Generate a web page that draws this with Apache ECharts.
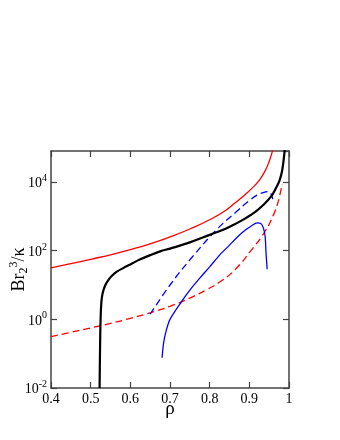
<!DOCTYPE html>
<html>
<head>
<meta charset="utf-8">
<script src="https://cdn.jsdelivr.net/npm/echarts@6/dist/echarts.min.js"></script>
<style>html,body{margin:0;padding:0;background:#fff}#c{width:340px;height:440px}</style>
</head>
<body>
<div id="c"></div>
<script>
// rho values and Br2^3/kappa values
var redSolidX = [0.40,0.45,0.50,0.55,0.60,0.65,0.70,0.75,0.80,0.84,0.865,0.886,0.905,0.925,0.94,0.95,0.957,0.963];
var redSolidY = [31.6,41.7,56.2,75.9,107,158,251,427,794,1479,2512,3981,6310,11220,21380,39810,70790,125900];

var blackX = [0.5225,0.5235,0.525,0.527,0.530,0.536,0.545,0.553,0.565,0.583,0.60,0.625,0.65,0.675,0.70,0.75,0.80,0.84,0.865,0.89,0.915,0.935,0.955,0.966,0.976,0.983,0.989,0.992];
var blackY = [0.01,0.1,1,3.16,5.62,9.33,14.1,18.2,24.0,31.6,39.8,56.2,74.1,95.5,115,174,288,437,603,871,1349,2138,3802,6310,10960,22390,79430,158500];

var blueDashX = [0.65,0.70,0.755,0.818,0.865,0.898,0.92,0.935,0.949,0.955,0.959];
var blueDashY = [1.41,10,63.1,417,1288,2754,4169,4898,5248,4467,3162];

var blueSolidX = [0.680,0.684,0.69,0.70,0.73,0.75,0.775,0.80,0.825,0.85,0.87,0.89,0.905,0.92,0.93,0.936,0.94,0.942,0.945];
var blueSolidY = [0.0759,0.209,0.447,1.0,3.39,7.08,15.8,33.9,74.1,145,251,398,525,646,603,437,251,89.1,28.8];

var redDashX = [0.40,0.45,0.50,0.55,0.60,0.65,0.70,0.75,0.793,0.827,0.865,0.9025,0.939,0.961,0.9725,0.9825];
var redDashY = [0.316,0.417,0.562,0.759,1.07,1.55,2.40,4.17,7.41,12.6,28.8,95.5,355,1122,2630,8710];

var xTicks = {min: 0.4, max: 1.0, interval: 0.1};
var yTicks = {min: 0.01, max: 80000};

function pairs(xs, ys) { return xs.map(function (x, i) { return [x, ys[i]]; }); }

var font = 'Liberation Serif';
var axisColor = '#444';

var chart = echarts.init(document.getElementById('c'));
chart.setOption({
  animation: false,
  backgroundColor: '#fff',
  grid: {left: 51, top: 151, right: 51, bottom: 52, containLabel: false, outerBoundsMode: 'none'},
  xAxis: [{
    type: 'value', min: xTicks.min, max: xTicks.max, interval: xTicks.interval,
    position: 'bottom',
    axisLine: {lineStyle: {color: axisColor, width: 1.5}},
    axisTick: {inside: true, length: 6, lineStyle: {color: axisColor, width: 1.2}},
    splitLine: {show: false},
    axisLabel: {fontFamily: font, fontSize: 14, color: '#000', margin: 4, hideOverlap: false,
      formatter: function (v) { return Math.abs(v - 1) < 1e-9 ? '1' : v.toFixed(1); }},
    name: 'ρ', nameLocation: 'middle', nameGap: 12, nameMoveOverlap: false,
    nameTextStyle: {fontFamily: font, fontSize: 19, color: '#000'}
  }, {
    type: 'value', min: xTicks.min, max: xTicks.max, interval: xTicks.interval,
    position: 'top',
    axisLine: {show: true, lineStyle: {color: axisColor, width: 1.5}},
    axisTick: {show: true, inside: true, length: 6, lineStyle: {color: axisColor, width: 1.2}},
    axisLabel: {show: false}, splitLine: {show: false}
  }],
  yAxis: [{
    type: 'log', logBase: 10, min: yTicks.min, max: yTicks.max, interval: 2,
    position: 'left',
    axisLine: {show: true, lineStyle: {color: axisColor, width: 1.5}},
    axisTick: {show: true, inside: true, length: 6, lineStyle: {color: axisColor, width: 1.2}},
    minorTick: {show: false},
    splitLine: {show: false},
    axisLabel: {
      showMaxLabel: false, margin: 4, hideOverlap: false,
      formatter: function (v) {
        var e = Math.round(Math.log(v) / Math.LN10);
        return '{b|10}{s|' + e + '}';
      },
      rich: {
        b: {fontFamily: font, fontSize: 14, color: '#000', verticalAlign: 'bottom'},
        s: {fontFamily: font, fontSize: 10, color: '#000', verticalAlign: 'top', padding: [0, 0, 7, 0]}
      }
    },
    name: '{a|Br}{sub|2}{sup|3}{a|/κ}', nameLocation: 'middle', nameGap: 21, nameRotate: 90,
    nameMoveOverlap: false,
    nameTextStyle: {
      rich: {
        a: {fontFamily: font, fontSize: 18, color: '#000', verticalAlign: 'middle'},
        sub: {fontFamily: font, fontSize: 12, color: '#000', verticalAlign: 'bottom', padding: [10, 0, 0, 0]},
        sup: {fontFamily: font, fontSize: 12, color: '#000', verticalAlign: 'top', padding: [0, 0, 10, 0]}
      }
    }
  }, {
    type: 'log', logBase: 10, min: yTicks.min, max: yTicks.max, interval: 2,
    position: 'right',
    axisLine: {show: true, lineStyle: {color: axisColor, width: 1.5}},
    axisTick: {show: true, inside: true, length: 6, lineStyle: {color: axisColor, width: 1.2}},
    minorTick: {show: false},
    axisLabel: {show: false}, splitLine: {show: false}
  }],
  series: [
    {type: 'line', data: pairs(redSolidX, redSolidY), showSymbol: false, smooth: 0.5,
      lineStyle: {color: '#ff0000', width: 1.3}, clip: true},
    {type: 'line', data: pairs(redDashX, redDashY), showSymbol: false, smooth: 0.5,
      lineStyle: {color: '#ff0000', width: 1.3, type: [7, 4]}, clip: true},
    {type: 'line', data: pairs(blueDashX, blueDashY), showSymbol: false, smooth: 0.4,
      lineStyle: {color: '#0000ff', width: 1.3, type: [7, 4]}, clip: true},
    {type: 'line', data: pairs(blueSolidX, blueSolidY), showSymbol: false, smooth: 0.3,
      lineStyle: {color: '#0000ff', width: 1.3}, clip: true},
    {type: 'line', data: pairs(blackX, blackY), showSymbol: false, smooth: 0.4,
      lineStyle: {color: '#000000', width: 2.2}, clip: true}
  ]
});
</script>
</body>
</html>
